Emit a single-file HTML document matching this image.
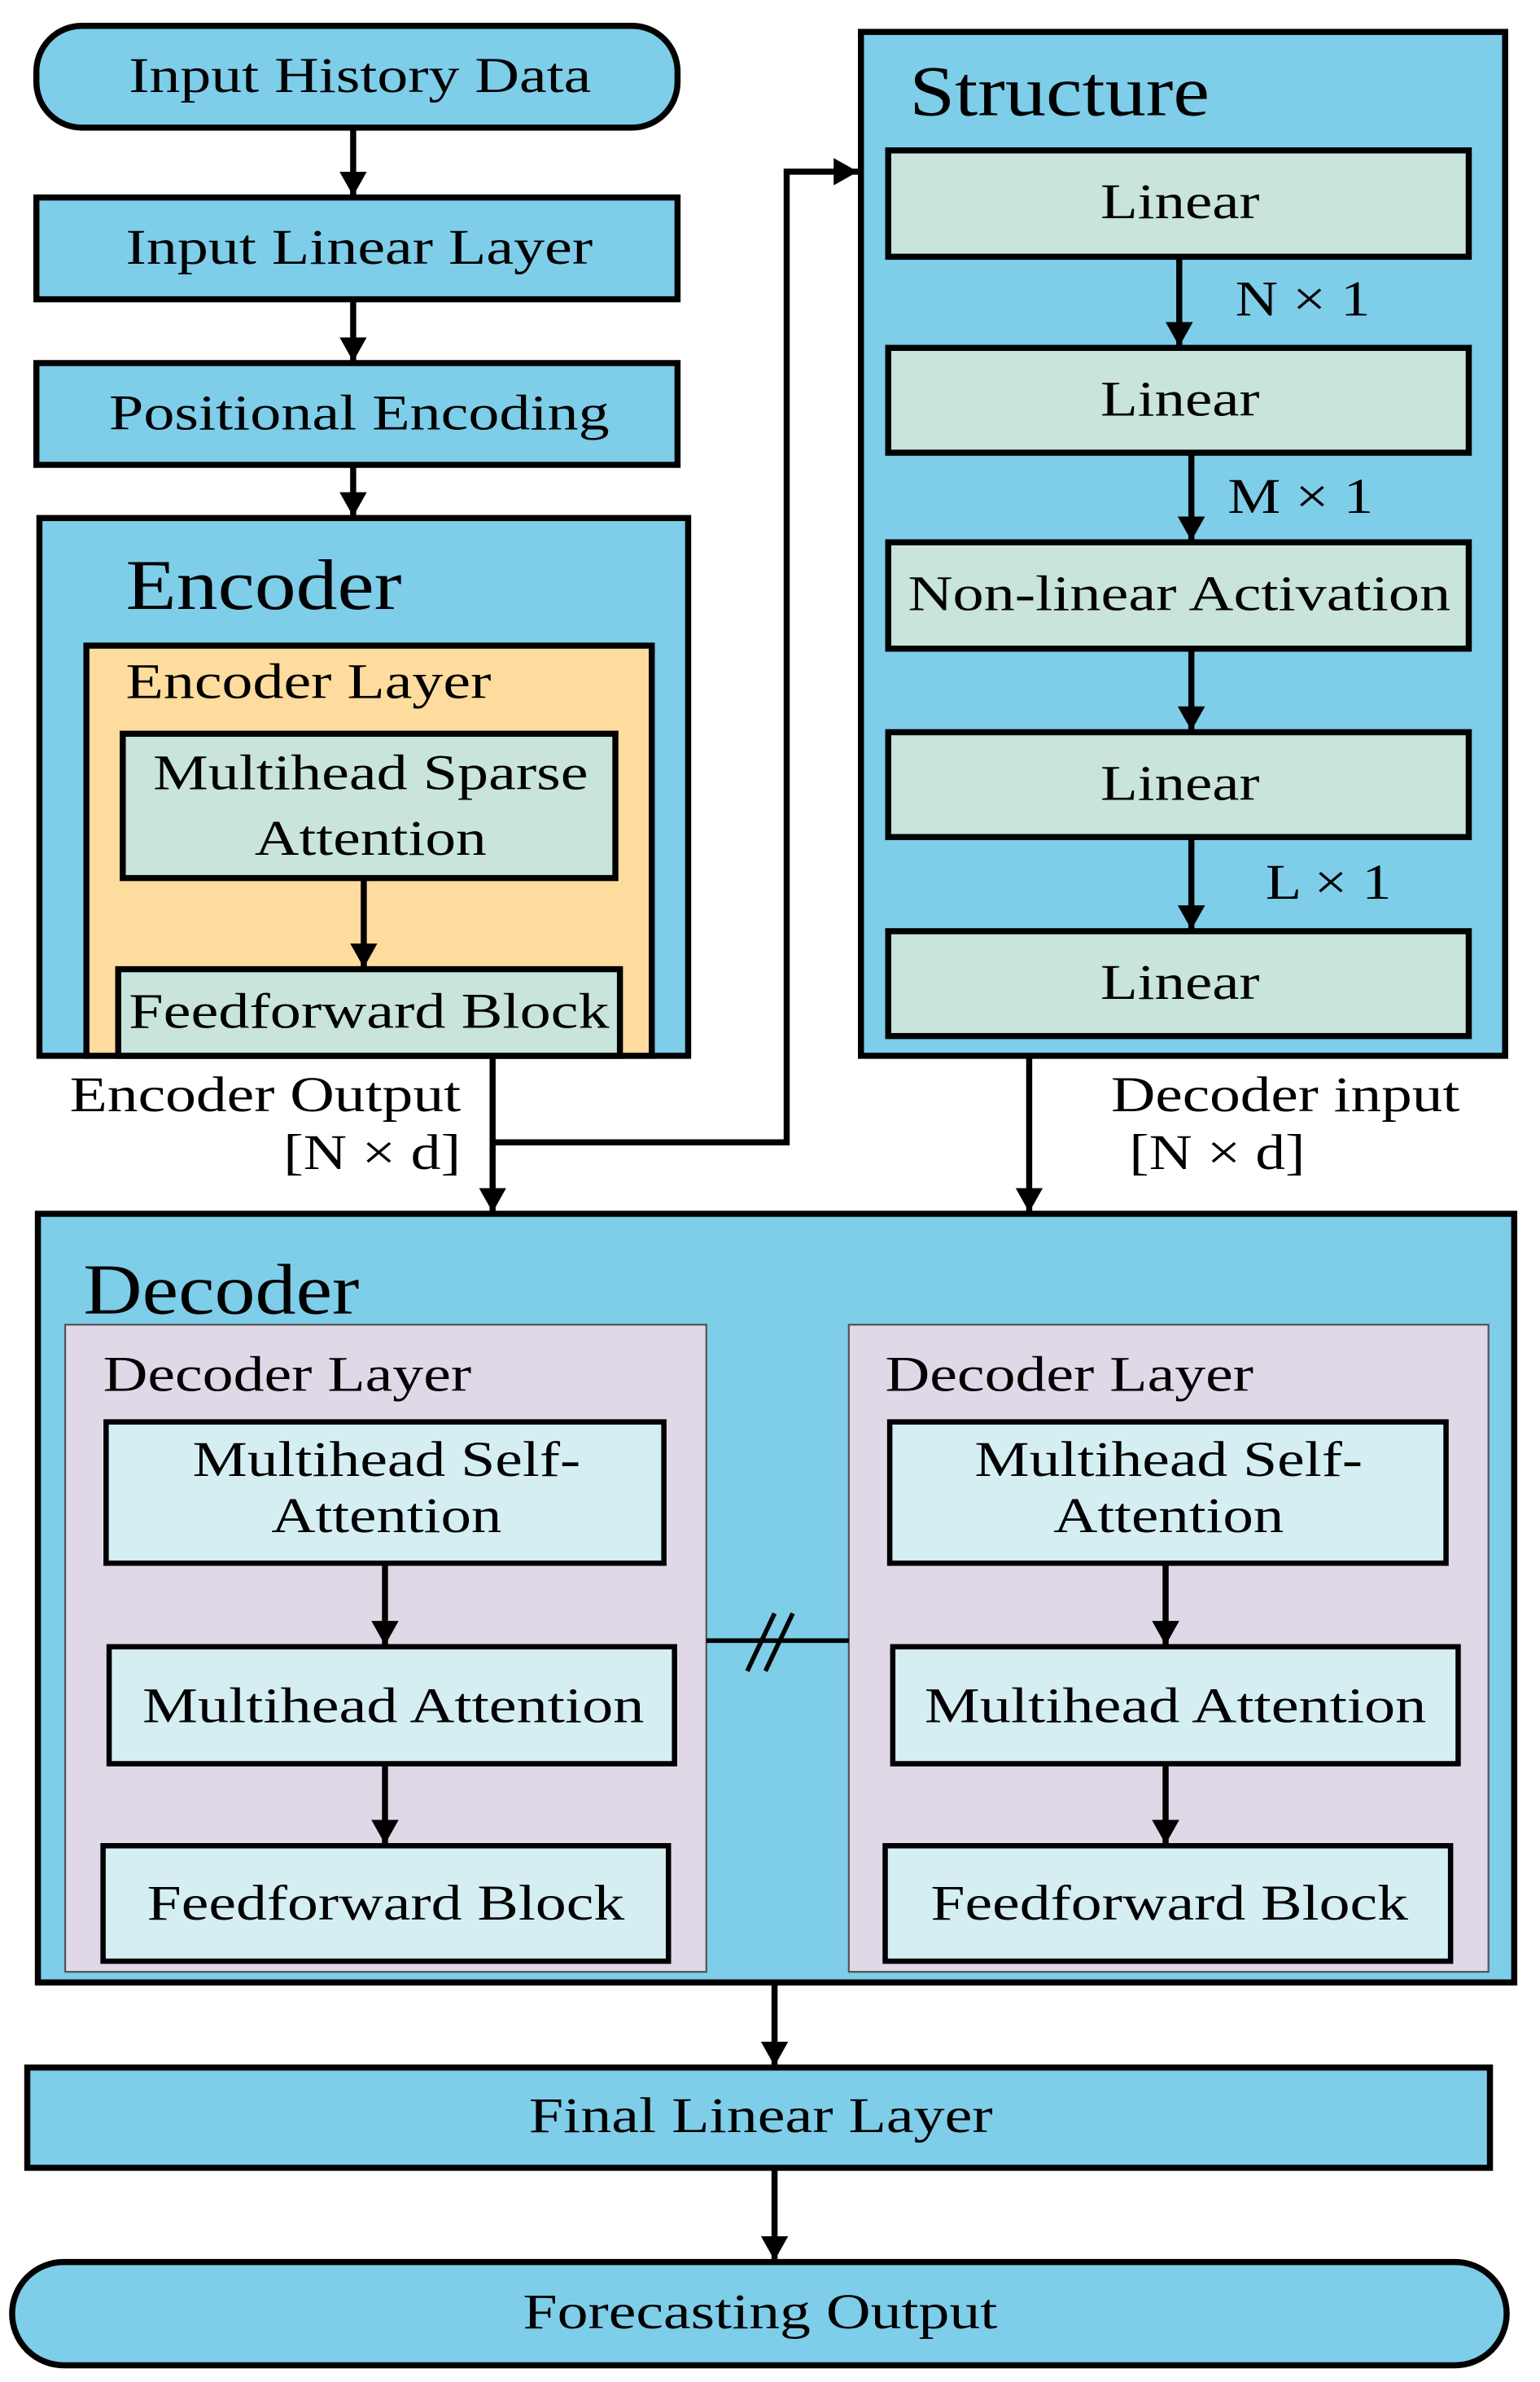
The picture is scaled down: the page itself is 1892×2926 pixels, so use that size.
<!DOCTYPE html>
<html><head><meta charset="utf-8"><style>
html,body{margin:0;padding:0;background:#fff;}
svg{display:block;}
text{font-family:"Liberation Serif",serif;fill:#000;}
</style></head><body>
<svg width="1892" height="2926" viewBox="0 0 1016 1568" preserveAspectRatio="none" xmlns="http://www.w3.org/2000/svg">
<defs>
<marker id="b" markerWidth="16" markerHeight="18" refX="16" refY="9" orient="auto" markerUnits="userSpaceOnUse" viewBox="0 0 16 18">
<path d="M0,0 L16,9 L0,18 z" fill="#000"/></marker>
</defs>
<g stroke="#000" stroke-width="4">
<rect x="24" y="17" width="423" height="67" rx="30" fill="#7ecde9"/>
<rect x="24" y="130" width="423" height="67" fill="#7ecde9"/>
<rect x="24" y="239" width="423" height="67" fill="#7ecde9"/>
<rect x="26" y="341" width="428" height="354" fill="#7ecde9"/>
<rect x="57" y="425" width="373" height="270" fill="#fedc9e"/>
<rect x="81" y="483" width="325" height="95" fill="#c8e4dc"/>
<rect x="78" y="638" width="331" height="57" fill="#c8e4dc"/>
<rect x="568" y="21" width="425" height="674" fill="#7ecde9"/>
<rect x="586" y="99" width="383" height="70" fill="#c8e4dc"/>
<rect x="586" y="229" width="383" height="69" fill="#c8e4dc"/>
<rect x="586" y="357" width="383" height="70" fill="#c8e4dc"/>
<rect x="586" y="482" width="383" height="69" fill="#c8e4dc"/>
<rect x="586" y="613" width="383" height="69" fill="#c8e4dc"/>
<rect x="25" y="799" width="974" height="506" fill="#7ecde9"/>
</g>
<g stroke="#555" stroke-width="1.2" fill="#e0d8e7">
<rect x="43" y="872" width="423" height="426"/>
<rect x="560" y="872" width="422" height="426"/>
</g>
<g stroke="#000" stroke-width="3.5" fill="#d4eef2">
<rect x="70" y="936" width="368" height="93"/>
<rect x="72" y="1084" width="373" height="77"/>
<rect x="68" y="1215" width="373" height="76"/>
<rect x="587" y="936" width="367" height="93"/>
<rect x="589" y="1084" width="373" height="77"/>
<rect x="584" y="1215" width="373" height="76"/>
</g>
<g stroke="#000" stroke-width="4">
<rect x="18" y="1361" width="965" height="66" fill="#7ecde9"/>
<rect x="8" y="1489" width="986" height="68" rx="34" fill="#7ecde9"/>
</g>
<g stroke="#000" stroke-width="4" fill="none" marker-end="url(#b)">
<line x1="233" y1="84" x2="233" y2="129"/>
<line x1="233" y1="197" x2="233" y2="238"/>
<line x1="233" y1="306" x2="233" y2="340"/>
<line x1="240" y1="578" x2="240" y2="637"/>
<line x1="325" y1="695" x2="325" y2="798"/>
<polyline points="325,752 519,752 519,113 566,113"/>
<line x1="778" y1="169" x2="778" y2="228"/>
<line x1="786" y1="298" x2="786" y2="356"/>
<line x1="786" y1="427" x2="786" y2="481"/>
<line x1="786" y1="551" x2="786" y2="612"/>
<line x1="679" y1="695" x2="679" y2="798"/>
<line x1="254" y1="1029" x2="254" y2="1083"/>
<line x1="254" y1="1161" x2="254" y2="1214"/>
<line x1="769" y1="1029" x2="769" y2="1083"/>
<line x1="769" y1="1161" x2="769" y2="1214"/>
<line x1="511" y1="1305" x2="511" y2="1360"/>
<line x1="511" y1="1427" x2="511" y2="1488"/>
</g>
<g stroke="#000" stroke-width="3">
<line x1="466" y1="1080" x2="560" y2="1080"/>
<line x1="493" y1="1100" x2="511" y2="1062"/>
<line x1="505" y1="1100" x2="523" y2="1062"/>
</g>
<g font-size="33" dominant-baseline="middle" lengthAdjust="spacingAndGlyphs">
<text x="85" y="53" textLength="305" lengthAdjust="spacingAndGlyphs">Input History Data</text>
<text x="83" y="166" textLength="308" lengthAdjust="spacingAndGlyphs">Input Linear Layer</text>
<text x="72" y="275" textLength="330" lengthAdjust="spacingAndGlyphs">Positional Encoding</text>
<text x="83" y="452" textLength="241" lengthAdjust="spacingAndGlyphs">Encoder Layer</text>
<text x="101" y="512" textLength="287" lengthAdjust="spacingAndGlyphs">Multihead Sparse</text>
<text x="168" y="555" textLength="153" lengthAdjust="spacingAndGlyphs">Attention</text>
<text x="85" y="669" textLength="317" lengthAdjust="spacingAndGlyphs">Feedforward Block</text>
<text x="726" y="136" textLength="105" lengthAdjust="spacingAndGlyphs">Linear</text>
<text x="726" y="266" textLength="105" lengthAdjust="spacingAndGlyphs">Linear</text>
<text x="599" y="394" textLength="358" lengthAdjust="spacingAndGlyphs">Non-linear Activation</text>
<text x="726" y="519" textLength="105" lengthAdjust="spacingAndGlyphs">Linear</text>
<text x="726" y="650" textLength="105" lengthAdjust="spacingAndGlyphs">Linear</text>
<text x="815" y="200" textLength="89" lengthAdjust="spacingAndGlyphs">N × 1</text>
<text x="810" y="330" textLength="96" lengthAdjust="spacingAndGlyphs">M × 1</text>
<text x="835" y="584" textLength="83" lengthAdjust="spacingAndGlyphs">L × 1</text>
<text x="46" y="724" textLength="258" lengthAdjust="spacingAndGlyphs">Encoder Output</text>
<text x="187" y="762" textLength="117" lengthAdjust="spacingAndGlyphs">[N × d]</text>
<text x="733" y="724" textLength="230" lengthAdjust="spacingAndGlyphs">Decoder input</text>
<text x="745" y="762" textLength="116" lengthAdjust="spacingAndGlyphs">[N × d]</text>
<text x="68" y="908" textLength="243" lengthAdjust="spacingAndGlyphs">Decoder Layer</text>
<text x="584" y="908" textLength="243" lengthAdjust="spacingAndGlyphs">Decoder Layer</text>
<text x="127" y="964" textLength="256" lengthAdjust="spacingAndGlyphs">Multihead Self-</text>
<text x="179" y="1001" textLength="152" lengthAdjust="spacingAndGlyphs">Attention</text>
<text x="94" y="1126" textLength="331" lengthAdjust="spacingAndGlyphs">Multihead Attention</text>
<text x="97" y="1256" textLength="315" lengthAdjust="spacingAndGlyphs">Feedforward Block</text>
<text x="643" y="964" textLength="256" lengthAdjust="spacingAndGlyphs">Multihead Self-</text>
<text x="695" y="1001" textLength="152" lengthAdjust="spacingAndGlyphs">Attention</text>
<text x="610" y="1126" textLength="331" lengthAdjust="spacingAndGlyphs">Multihead Attention</text>
<text x="614" y="1256" textLength="315" lengthAdjust="spacingAndGlyphs">Feedforward Block</text>
<text x="349" y="1396" textLength="306" lengthAdjust="spacingAndGlyphs">Final Linear Layer</text>
<text x="345" y="1525" textLength="313" lengthAdjust="spacingAndGlyphs">Forecasting Output</text>
</g>
<g font-size="47" dominant-baseline="middle">
<text x="83" y="390" textLength="182" lengthAdjust="spacingAndGlyphs">Encoder</text>
<text x="600" y="65" textLength="198" lengthAdjust="spacingAndGlyphs">Structure</text>
<text x="55" y="854" textLength="182" lengthAdjust="spacingAndGlyphs">Decoder</text>
</g>
</svg>
</body></html>
